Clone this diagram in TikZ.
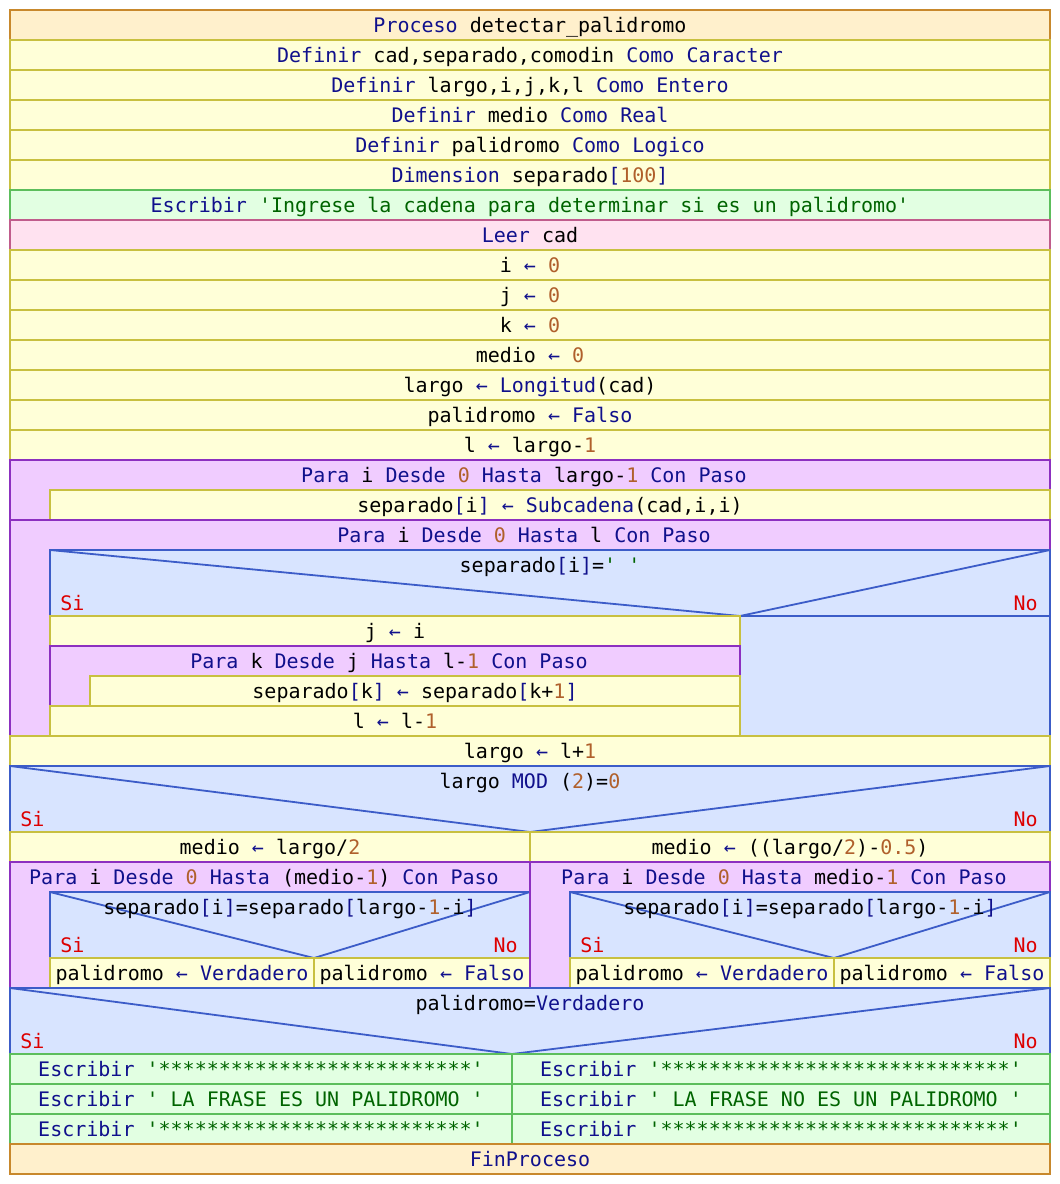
\documentclass[tikz,border=0pt]{standalone}
\usepackage{fontspec}
\setmonofont{DejaVu Sans Mono}
\usepackage{tikz}
\definecolor{procfill}{HTML}{FFF0CC}\definecolor{procline}{HTML}{C8882C}
\definecolor{asigfill}{HTML}{FFFFD8}\definecolor{asigline}{HTML}{C8C040}
\definecolor{escfill}{HTML}{E2FFE2}\definecolor{escline}{HTML}{5CBE5C}
\definecolor{leerfill}{HTML}{FFE2F0}\definecolor{leerline}{HTML}{C05C8C}
\definecolor{parafill}{HTML}{F0CCFF}\definecolor{paraline}{HTML}{8C30C0}
\definecolor{sifill}{HTML}{D8E4FF}\definecolor{siline}{HTML}{3C5CC8}
\definecolor{kwcol}{HTML}{10108C}\definecolor{numcol}{HTML}{B0602C}
\definecolor{strcol}{HTML}{006400}\definecolor{sinocol}{HTML}{DD0000}
\tikzset{%
  celda/.style    = {line width=1pt},%
  procbox/.style  = {celda, draw=procline, fill=procfill},%
  asigbox/.style  = {celda, draw=asigline, fill=asigfill},%
  escbox/.style   = {celda, draw=escline, fill=escfill},%
  leerbox/.style  = {celda, draw=leerline, fill=leerfill},%
  parabox/.style  = {celda, draw=paraline, fill=parafill},%
  sibox/.style    = {celda, draw=siline, fill=sifill},%
  sidiag/.style   = {draw=siline, line width=0.9pt},%
  sino/.style     = {text=sinocol}%
}
\newcommand{\kwd}[1]{{\color{kwcol}#1}}
\newcommand{\numr}[1]{{\color{numcol}#1}}
\newcommand{\strg}[1]{{\color{strcol}#1}}
\newcommand{\asig}{\kwd{←}}
% fila de 30px: estilo, nombre, x1, y1, x2, texto
\newcommand{\fila}[6]{%
  \path[#1] (#3,#4) rectangle (#5,#4+30);%
  \node[anchor=base] (#2) at ({(#3+#5)/2},#4+22) {#6};}
% ciclo Para: nombre, x1, y1, x2, y2, texto
\newcommand{\para}[6]{%
  \path[parabox] (#2,#3) rectangle (#4,#5);%
  \node[anchor=base] (#1) at ({(#2+#4)/2},#3+22) {#6\hphantom{x}};}
% condicion Si: nombre, x1, y1, x2, xm, texto
\newcommand{\sicond}[6]{%
  \path[sibox] (#2,#3) rectangle (#4,#3+66);%
  \coordinate (#1-v) at (#5,#3+66);%
  \draw[sidiag] (#2,#3) -- (#1-v) -- (#4,#3);%
  \node[anchor=base] (#1) at ({(#2+#4)/2},#3+22) {#6};%
  \node[sino, anchor=base west] (#1-si) at (#2+10,#3+60) {Si};%
  \node[sino, anchor=base east] (#1-no) at (#4-12,#3+60) {No};}
\begin{document}
\begin{tikzpicture}[x=0.5pt, y=-0.5pt,
  every node/.style = {font=\fontsize{10}{12}\selectfont\ttfamily, inner sep=0pt}]
\useasboundingbox (0,0) rectangle (1060,1184);
% cabecera y definiciones
\fila{procbox}{proc}{10}{10}{1050}{\kwd{Proceso} detectar\_palidromo}
\fila{asigbox}{def1}{10}{40}{1050}{\kwd{Definir} cad,separado,comodin \kwd{Como Caracter}}
\fila{asigbox}{def2}{10}{70}{1050}{\kwd{Definir} largo,i,j,k,l \kwd{Como Entero}}
\fila{asigbox}{def3}{10}{100}{1050}{\kwd{Definir} medio \kwd{Como Real}}
\fila{asigbox}{def4}{10}{130}{1050}{\kwd{Definir} palidromo \kwd{Como Logico}}
\fila{asigbox}{dim}{10}{160}{1050}{\kwd{Dimension} separado\kwd{[}\numr{100}\kwd{]}}
\fila{escbox}{esc1}{10}{190}{1050}{\kwd{Escribir} \strg{'Ingrese la cadena para determinar si es un palidromo'}}
\fila{leerbox}{leer}{10}{220}{1050}{\kwd{Leer} cad}
\fila{asigbox}{ai}{10}{250}{1050}{i \asig{} \numr{0}}
\fila{asigbox}{aj0}{10}{280}{1050}{j \asig{} \numr{0}}
\fila{asigbox}{ak}{10}{310}{1050}{k \asig{} \numr{0}}
\fila{asigbox}{amedio}{10}{340}{1050}{medio \asig{} \numr{0}}
\fila{asigbox}{alargo0}{10}{370}{1050}{largo \asig{} \kwd{Longitud}(cad)}
\fila{asigbox}{apal}{10}{400}{1050}{palidromo \asig{} \kwd{Falso}}
\fila{asigbox}{al0}{10}{430}{1050}{l \asig{} largo-\numr{1}}
% primer ciclo
\para{para1}{10}{460}{1050}{520}{\kwd{Para} i \kwd{Desde} \numr{0} \kwd{Hasta} largo-\numr{1} \kwd{Con Paso}}
\fila{asigbox}{sep1}{50}{490}{1050}{separado\kwd{[}i\kwd{]} \asig{} \kwd{Subcadena}(cad,i,i)}
% segundo ciclo
\para{para2}{10}{520}{1050}{736}{\kwd{Para} i \kwd{Desde} \numr{0} \kwd{Hasta} l \kwd{Con Paso}}
\sicond{si1}{50}{550}{1050}{740}{separado\kwd{[}i\kwd{]}=\strg{' '}}
\path[sibox] (740,616) rectangle (1050,736);
\fila{asigbox}{aj}{50}{616}{740}{j \asig{} i}
\para{parak}{50}{646}{740}{706}{\kwd{Para} k \kwd{Desde} j \kwd{Hasta} l-\numr{1} \kwd{Con Paso}}
\fila{asigbox}{sepk}{90}{676}{740}{separado\kwd{[}k\kwd{]} \asig{} separado\kwd{[}k+\numr{1}\kwd{]}}
\fila{asigbox}{al}{50}{706}{740}{l \asig{} l-\numr{1}}
\fila{asigbox}{alargo}{10}{736}{1050}{largo \asig{} l+\numr{1}}
% par o impar
\sicond{si2}{10}{766}{1050}{530}{largo \kwd{MOD} (\numr{2})=\numr{0}}
\fila{asigbox}{med1}{10}{832}{530}{medio \asig{} largo/\numr{2}}
\fila{asigbox}{med2}{530}{832}{1050}{medio \asig{} ((largo/\numr{2})-\numr{0.5})}
\para{para3}{10}{862}{530}{988}{\kwd{Para} i \kwd{Desde} \numr{0} \kwd{Hasta} (medio-\numr{1}) \kwd{Con Paso}}
\sicond{si3}{50}{892}{530}{314}{separado\kwd{[}i\kwd{]}=separado\kwd{[}largo-\numr{1}-i\kwd{]}}
\fila{asigbox}{pv1}{50}{958}{314}{palidromo \asig{} \kwd{Verdadero}}
\fila{asigbox}{pf1}{314}{958}{530}{palidromo \asig{} \kwd{Falso}}
\para{para4}{530}{862}{1050}{988}{\kwd{Para} i \kwd{Desde} \numr{0} \kwd{Hasta} medio-\numr{1} \kwd{Con Paso}}
\sicond{si4}{570}{892}{1050}{834}{separado\kwd{[}i\kwd{]}=separado\kwd{[}largo-\numr{1}-i\kwd{]}}
\fila{asigbox}{pv2}{570}{958}{834}{palidromo \asig{} \kwd{Verdadero}}
\fila{asigbox}{pf2}{834}{958}{1050}{palidromo \asig{} \kwd{Falso}}
% resultado
\sicond{si5}{10}{988}{1050}{512}{palidromo=\kwd{Verdadero}}
\fila{escbox}{es1}{10}{1054}{512}{\kwd{Escribir} \strg{'**************************'}}
\fila{escbox}{es2}{10}{1084}{512}{\kwd{Escribir} \strg{' LA FRASE ES UN PALIDROMO '}}
\fila{escbox}{es3}{10}{1114}{512}{\kwd{Escribir} \strg{'**************************'}}
\fila{escbox}{en1}{512}{1054}{1050}{\kwd{Escribir} \strg{'*****************************'}}
\fila{escbox}{en2}{512}{1084}{1050}{\kwd{Escribir} \strg{' LA FRASE NO ES UN PALIDROMO '}}
\fila{escbox}{en3}{512}{1114}{1050}{\kwd{Escribir} \strg{'*****************************'}}
\fila{procbox}{fin}{10}{1144}{1050}{\kwd{FinProceso}}
\end{tikzpicture}
\end{document}
